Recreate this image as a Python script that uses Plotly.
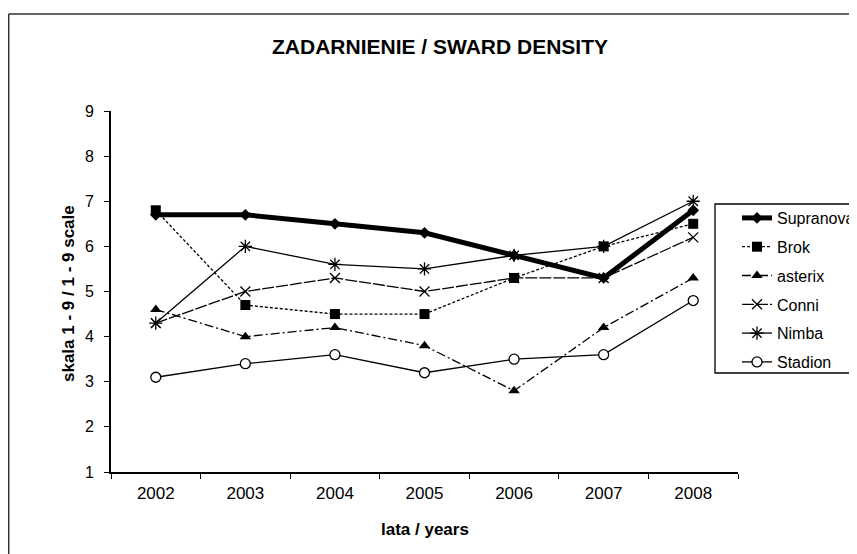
import plotly.graph_objects as go

years = ["2002", "2003", "2004", "2005", "2006", "2007", "2008"]
supranova = [6.7, 6.7, 6.5, 6.3, 5.8, 5.3, 6.8]
brok = [6.8, 4.7, 4.5, 4.5, 5.3, 6.0, 6.5]
asterix = [4.6, 4.0, 4.2, 3.8, 2.8, 4.2, 5.3]
conni = [4.3, 5.0, 5.3, 5.0, 5.3, 5.3, 6.2]
nimba = [4.3, 6.0, 5.6, 5.5, 5.8, 6.0, 7.0]
stadion = [3.1, 3.4, 3.6, 3.2, 3.5, 3.6, 4.8]

# page body has an 8px margin: convert screen coords to figure coords
OFF = 8
W, H = 857, 554
L, R, T, B = 111 - OFF, 738 - OFF, 111 - OFF, 472 - OFF


def px(x):
    return ((x - OFF) - L) / (R - L)


def py(y):
    return (B - (y - OFF)) / (B - T)


FONT = "Liberation Sans, Arial, sans-serif"

series = [
    ("Supranova", supranova, dict(color="black", width=5, dash="solid"),
     dict(symbol="diamond", size=9, color="black")),
    ("Brok", brok, dict(color="black", width=1.3, dash="3px,2px"),
     dict(symbol="square", size=10, color="black")),
    ("asterix", asterix, dict(color="black", width=1.3, dash="9px,3px,2px,3px"),
     dict(symbol="triangle-up", size=10, color="black")),
    ("Conni", conni, dict(color="black", width=1.3, dash="12px,2px"),
     dict(symbol="x-thin-open", size=10, color="black", line=dict(width=1.3, color="black"))),
    ("Nimba", nimba, dict(color="black", width=1.3, dash="solid"),
     dict(symbol="asterisk-open", size=11, color="black", line=dict(width=1.3, color="black"))),
    ("Stadion", stadion, dict(color="black", width=1.3, dash="solid"),
     dict(symbol="circle", size=10, color="white", line=dict(width=1.3, color="black"))),
]

fig = go.Figure()
for name, vals, line, marker in series:
    fig.add_trace(go.Scatter(
        x=years, y=vals, name=name, mode="lines+markers",
        line=line, marker=marker, legendgroup=name,
    ))

fig.update_layout(
    width=W, height=H,
    margin=dict(l=L, r=W - R, t=T, b=H - B, pad=0, autoexpand=False),
    paper_bgcolor="white", plot_bgcolor="white",
    font=dict(family=FONT, size=15, color="black"),
    showlegend=True,
    legend=dict(
        x=px(737), xanchor="left", y=py(201), yanchor="top",
        bgcolor="rgba(0,0,0,0)", borderwidth=0,
        font=dict(family=FONT, size=16, color="black"),
        tracegroupgap=5, itemwidth=30,
    ),
    xaxis=dict(
        type="category", range=[-0.5, 6.5], tickson="boundaries",
        ticks="outside", ticklen=5, tickwidth=1, tickcolor="black",
        showline=True, linecolor="black", linewidth=2, showgrid=False,
        zeroline=False, tickfont=dict(family=FONT, size=17),
        ticklabelstandoff=5,
    ),
    yaxis=dict(
        range=[1, 9], dtick=1, tick0=1,
        ticks="outside", ticklen=5, tickwidth=1, tickcolor="black",
        showline=True, linecolor="black", linewidth=2, showgrid=False,
        zeroline=False, tickfont=dict(family=FONT, size=16),
        ticklabelstandoff=7,
    ),
    annotations=[
        dict(text="<b>ZADARNIENIE / SWARD DENSITY</b>", xref="paper", yref="paper",
             x=px(440), y=py(47), xanchor="center", yanchor="middle", showarrow=False,
             font=dict(family=FONT, size=21, color="black")),
        dict(text="<b>lata / years</b>", xref="paper", yref="paper",
             x=px(425), y=py(529), xanchor="center", yanchor="middle", showarrow=False,
             font=dict(family=FONT, size=17, color="black")),
        dict(text="<b>skala 1 - 9 / 1 - 9 scale</b>", xref="paper", yref="paper",
             x=px(68), y=py(293), xanchor="center", yanchor="middle", showarrow=False,
             textangle=-90, font=dict(family=FONT, size=17, color="black")),
    ],
    shapes=[
        dict(type="line", xref="paper", yref="paper", x0=px(8.7), x1=px(880),
             y0=py(14), y1=py(14), line=dict(color="#333333", width=1.5)),
        dict(type="line", xref="paper", yref="paper", x0=px(8.7), x1=px(8.7),
             y0=py(14), y1=py(580), line=dict(color="#333333", width=1.5)),
        dict(type="rect", xref="paper", yref="paper", x0=px(715), x1=px(890),
             y0=py(204), y1=py(373), line=dict(color="black", width=1.3),
             fillcolor="white", layer="below"),
    ],
)

fig.write_html("out.html")
